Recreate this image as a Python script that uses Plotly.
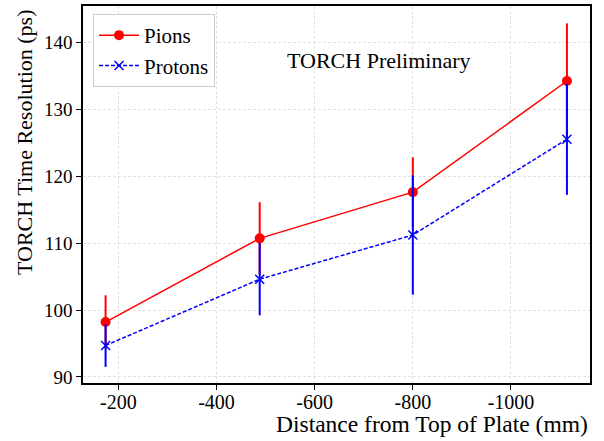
import plotly.graph_objects as go

distance = [-174, -488, -800, -1114]
pion_res = [98.2, 110.7, 117.6, 134.2]
pion_err = [4.0, 5.4, 5.2, 8.6]
proton_res = [94.7, 104.6, 111.2, 125.5]
proton_err = [3.2, 5.4, 8.9, 8.3]
xticks = [-200, -400, -600, -800, -1000]
yticks = [90, 100, 110, 120, 130, 140]

FONT = "Liberation Serif"

fig = go.Figure()
fig.add_trace(go.Scatter(
    x=distance, y=pion_res, name="Pions", mode="lines+markers",
    line=dict(color="red", width=1.5),
    marker=dict(symbol="circle", size=10, color="red"),
    error_y=dict(type="data", array=pion_err, color="red", thickness=2, width=0),
))
fig.add_trace(go.Scatter(
    x=distance, y=proton_res, name="Protons", mode="lines+markers",
    line=dict(color="blue", width=1.5, dash="4px,2px"),
    marker=dict(symbol="x-thin", size=9, color="blue", line=dict(color="blue", width=1.5)),
    error_y=dict(type="data", array=proton_err, color="blue", thickness=2, width=0),
))

L, R, T, B = 83, 14, 6, 58
PW, PH = 604 - L - R, 441 - T - B

fig.add_annotation(text="TORCH Preliminary", x=(379 - L) / PW, y=1 - (61 - T) / PH,
                   xref="paper", yref="paper", xanchor="center", yanchor="middle",
                   showarrow=False, font=dict(family=FONT, size=22, color="black"))
fig.add_annotation(text="Distance from Top of Plate (mm)", x=1.0, y=-(424 - 383) / PH,
                   xref="paper", yref="paper", xanchor="right", yanchor="middle",
                   showarrow=False, font=dict(family=FONT, size=23.5, color="black"))
fig.add_annotation(text="TORCH Time Resolution (ps)", x=(24 - L) / PW, y=1 - (143 - T) / PH,
                   xref="paper", yref="paper", xanchor="center", yanchor="middle",
                   textangle=-90, showarrow=False,
                   font=dict(family=FONT, size=22, color="black"))

axis_common = dict(
    showline=True, linecolor="black", linewidth=1.5, mirror=True,
    ticks="outside", ticklen=5, tickwidth=1.2, tickcolor="black",
    showgrid=True, gridcolor="#e2e2e2", griddash="3px,2px", gridwidth=0.8,
    zeroline=False, automargin=False,
)

fig.update_layout(
    width=604, height=441,
    margin=dict(l=L, r=R, t=T, b=B),
    paper_bgcolor="white", plot_bgcolor="white",
    font=dict(family=FONT, color="black"),
    xaxis=dict(range=[-128, -1161], tickvals=xticks,
               ticktext=[str(v) for v in xticks], ticklabelstandoff=-5,
               tickfont=dict(family=FONT, size=20, color="black"), **axis_common),
    yaxis=dict(range=[89.1, 145.4], tickvals=yticks,
               tickfont=dict(family=FONT, size=19, color="black"), **axis_common),
    legend=dict(x=(93 - L) / PW, y=1 - (14 - T) / PH, xanchor="left", yanchor="top",
                bgcolor="white", bordercolor="#cccccc", borderwidth=1,
                font=dict(family=FONT, size=21, color="black"),
                itemwidth=40),
    showlegend=True,
)

fig.write_html("out.html", config={"displayModeBar": False},
               post_script="document.body.style.margin='0px';")
